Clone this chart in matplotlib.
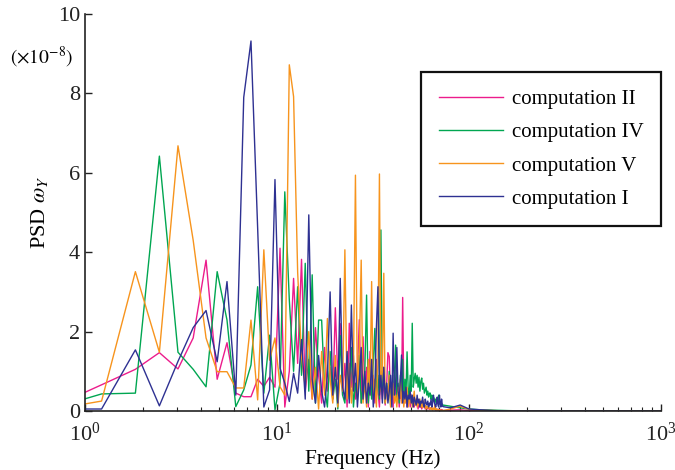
import numpy as np
import matplotlib
matplotlib.use('Agg')
import matplotlib.pyplot as plt

plt.rcParams['font.family'] = ['Liberation Serif', 'DejaVu Serif']
plt.rcParams['mathtext.fontset'] = 'stix'

# resolucao em frequencia do PSD (Hz) e pontos (x1e-8)
df = 0.61

psd_ii = [
    0.00, 0.66, 1.05, 1.47, 1.06, 1.84, 3.80, 0.80, 1.72, 0.45,
    0.36, 0.36, 0.80, 0.62, 0.85, 0.60, 4.10, 0.10, 1.00, 3.34,
    1.20, 3.82, 0.50, 1.30, 0.30, 2.10, 0.90, 0.20, 1.60, 0.50,
    1.10, 0.30, 2.60, 0.80, 2.20, 0.40, 1.20, 0.10, 2.21, 0.60,
    1.40, 0.30, 1.00, 2.30, 0.20, 1.87, 0.50, 1.10, 0.10, 1.50,
    0.40, 0.90, 0.20, 1.30, 0.50, 0.10, 1.00, 0.30, 0.80, 0.15,
    0.60, 1.47, 1.37, 0.30, 0.70, 0.10, 0.90, 0.40, 0.20, 0.60,
    0.10, 0.50, 0.30, 2.86, 0.40, 0.20, 0.60, 0.10, 0.30, 0.50,
    0.10, 0.40, 0.20, 0.30, 0.10, 0.25, 0.15, 0.30, 0.05, 0.20,
    0.10, 0.15, 0.05, 0.20, 0.10, 0.12, 0.05, 0.10, 0.08, 0.05,
    0.10, 0.04, 0.08, 0.05, 0.06, 0.03, 0.07, 0.04, 0.05, 0.02,
    0.04, 0.03, 0.05, 0.02, 0.03, 0.02, 0.04, 0.02, 0.03, 0.01,
]

psd_iv = [
    0.00, 0.43, 0.45, 6.42, 1.48, 1.05, 0.61, 3.51, 2.29, 0.11,
    0.53, 1.16, 3.13, 0.45, 1.91, 0.03, 0.70, 5.52, 2.80, 1.00,
    3.13, 0.90, 3.72, 0.50, 3.43, 0.20, 2.29, 2.29, 0.60, 0.10,
    1.50, 0.30, 0.80, 0.05, 1.90, 0.40, 0.20, 1.20, 0.30, 1.60,
    0.10, 0.70, 0.30, 1.40, 0.20, 0.60, 1.00, 2.92, 0.20, 0.80,
    0.30, 1.20, 2.08, 0.40, 0.90, 0.30, 4.56, 0.50, 1.10, 0.20,
    0.70, 0.30, 1.00, 0.15, 0.60, 0.40, 0.90, 1.66, 0.30, 0.70,
    0.20, 0.90, 0.50, 1.30, 0.30, 0.80, 0.40, 1.49, 0.60, 0.30,
    0.90, 0.50, 2.21, 0.60, 0.80, 0.95, 0.70, 0.90, 0.60, 0.85,
    0.50, 0.75, 0.83, 0.55, 0.70, 0.45, 0.53, 0.60, 0.40, 0.50,
    0.35, 0.45, 0.45, 0.30, 0.40, 0.25, 0.35, 0.30, 0.20, 0.30,
    0.25, 0.20, 0.28, 0.40, 0.18, 0.22, 0.15, 0.20, 0.12, 0.15,
]

psd_v = [
    0.00, 0.25, 3.51, 1.48, 6.68, 4.30, 1.84, 0.99, 0.99, 0.58,
    0.58, 2.29, 0.28, 4.06, 1.28, 1.84, 0.61, 0.40, 8.72, 7.92,
    3.50, 1.37, 0.60, 2.00, 0.30, 1.10, 0.05, 1.50, 0.40, 2.33,
    0.80, 0.20, 1.40, 0.10, 0.90, 0.50, 4.06, 0.30, 1.20, 0.20,
    1.00, 5.94, 0.40, 1.50, 3.80, 0.20, 0.70, 0.10, 1.30, 0.40,
    3.26, 0.30, 0.80, 0.10, 1.20, 5.97, 0.50, 1.00, 3.47, 0.20,
    0.60, 0.30, 0.90, 0.10, 0.50, 0.70, 0.20, 0.40, 0.10, 0.60,
    0.30, 0.80, 0.20, 0.50, 0.10, 0.40, 0.20, 0.60, 0.10, 0.30,
    0.20, 0.40, 0.10, 0.30, 0.50, 0.15, 0.30, 0.10, 0.25, 0.15,
    0.30, 0.10, 0.20, 0.08, 0.25, 0.10, 0.15, 0.05, 0.12, 0.08,
    0.10, 0.05, 0.08, 0.04, 0.10, 0.03, 0.06, 0.04, 0.15, 0.03,
    0.05, 0.02, 0.04, 0.03, 0.02, 0.03, 0.02, 0.01, 0.02, 0.01,
]

psd_i = [
    0.05, 0.05, 1.54, 0.13, 1.25, 2.10, 2.53, 1.24, 3.26, 0.40,
    7.90, 9.32, 4.60, 0.10, 0.53, 5.83, 1.08, 0.70, 0.24, 0.95,
    0.45, 1.80, 0.30, 4.94, 0.80, 0.20, 1.40, 0.50, 0.10, 0.90,
    3.00, 0.40, 1.10, 0.20, 3.34, 0.60, 0.30, 1.50, 0.20, 2.67,
    0.50, 1.20, 0.10, 0.80, 1.60, 0.30, 1.00, 0.20, 0.70, 0.40,
    1.30, 0.10, 0.60, 2.12, 3.13, 0.40, 0.90, 0.20, 1.10, 0.30,
    0.70, 0.20, 0.50, 0.90, 0.10, 1.96, 0.40, 0.70, 1.60, 0.50,
    0.30, 0.80, 1.41, 0.20, 0.50, 0.30, 0.60, 0.10, 0.40, 0.30,
    0.50, 0.20, 0.40, 0.10, 0.35, 0.25, 0.15, 0.40, 0.20, 0.30,
    0.10, 0.25, 0.20, 0.35, 0.15, 0.10, 0.30, 0.20, 0.15, 0.25,
    0.10, 0.20, 0.15, 0.30, 0.10, 0.20, 0.40, 0.25, 0.15, 0.10,
    0.20, 0.35, 0.15, 0.10, 0.40, 0.20, 0.10, 0.30, 0.15, 0.11,
]

# cauda de alta frequencia (quase zero)
freq_tail = [80, 90, 100, 115, 135, 160, 200, 1000]
tail_ii = [0.02, 0.03, 0.01, 0.02, 0.00, 0.00, 0.00, 0.00]
tail_iv = [0.12, 0.08, 0.05, 0.03, 0.02, 0.01, 0.00, 0.00]
tail_v = [0.05, 0.12, 0.04, 0.02, 0.01, 0.00, 0.00, 0.00]
tail_i = [0.08, 0.15, 0.05, 0.03, 0.01, 0.00, 0.00, 0.00]

labels = ['computation II', 'computation IV', 'computation V', 'computation I']
cores = ['#EC1C8C', '#00A651', '#F7941D', '#2E3192']

series = [(psd_ii, tail_ii), (psd_iv, tail_iv), (psd_v, tail_v), (psd_i, tail_i)]

fig = plt.figure(figsize=(6.75, 4.7), dpi=100)
ax = fig.add_axes([85 / 675, 59 / 470, 576 / 675, 397 / 470])

for (vals, tail), lab, cor in zip(series, labels, cores):
    f = np.concatenate([df * np.arange(1, len(vals) + 1), freq_tail])
    y = np.concatenate([vals, tail])
    ax.plot(f, y, color=cor, lw=1.0, label=lab)

ax.set_xscale('log')
ax.set_xlim(1, 1000)
ax.set_ylim(0, 10)
ax.set_yticks([0, 2, 4, 6, 8, 10])

for s in ['top', 'right']:
    ax.spines[s].set_visible(False)
for s in ['left', 'bottom']:
    ax.spines[s].set_linewidth(1.2)
    ax.spines[s].set_color('#222222')

ax.tick_params(which='major', direction='in', length=5, width=1.0, labelsize=16, colors='#222222')
ax.tick_params(which='minor', direction='in', length=3, width=0.8, colors='#222222')
ax.tick_params(axis='x', pad=8)

ax.set_xlabel('Frequency (Hz)', fontsize=15.5, labelpad=3)
ax.set_ylabel(r'PSD $\omega_Y$', fontsize=16, labelpad=6)

fig.text(10 / 675, 1 - 57 / 470, r'$(\times 10^{-8})$', fontsize=14, va='center', ha='left')

leg = ax.legend(loc='upper right', bbox_to_anchor=(1.0, (411 - 72) / 397), borderaxespad=0,
                fontsize=15, handlelength=3.1, handletextpad=0.4, labelspacing=0.65,
                borderpad=0.85, fancybox=False, framealpha=1)
leg.get_frame().set_edgecolor('#111111')
leg.get_frame().set_linewidth(1.6)

fig.savefig('out.png', dpi=100)
